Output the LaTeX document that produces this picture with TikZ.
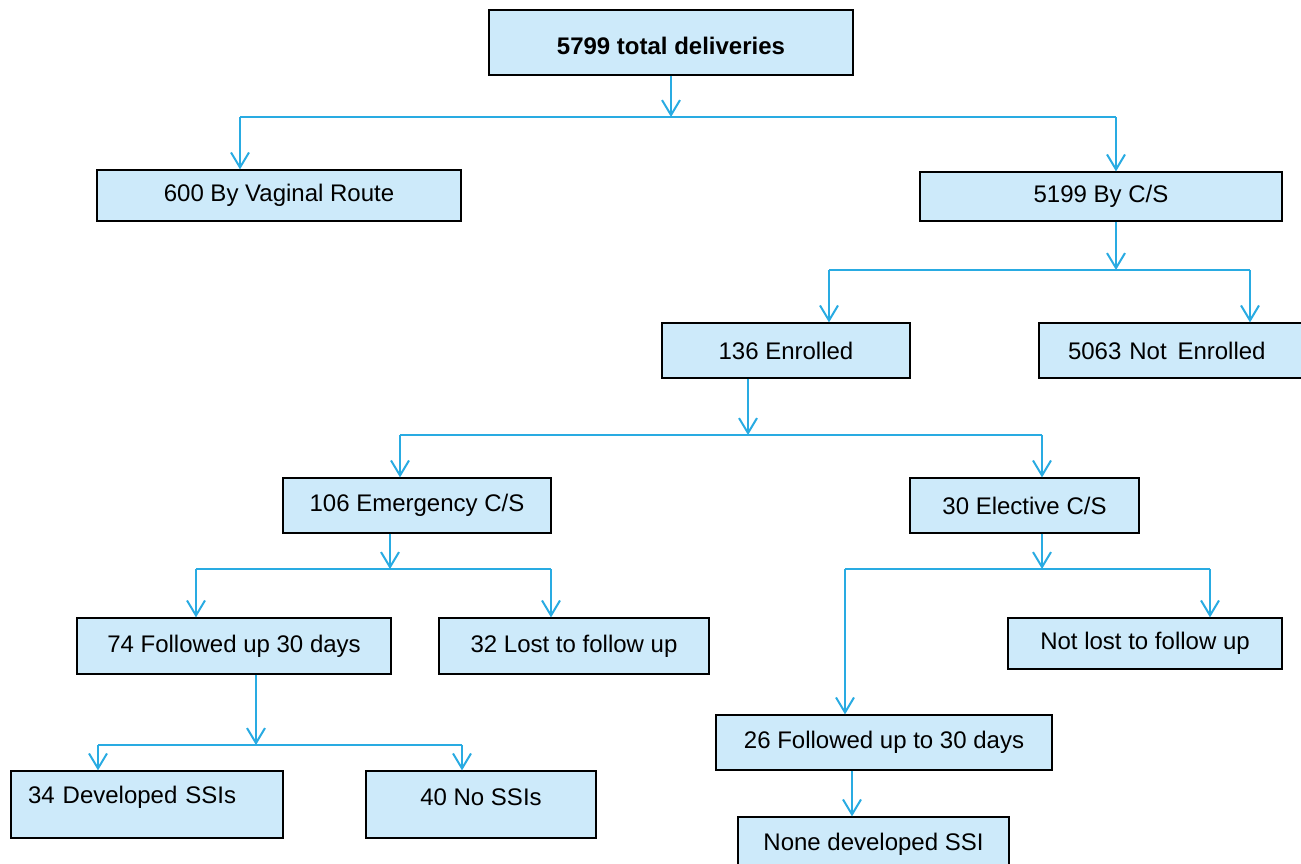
\documentclass[tikz,border=0pt]{standalone}
\usepackage{fontspec}
\setmainfont{Liberation Sans}
\usetikzlibrary{positioning,arrows.meta,calc}
\definecolor{linkblue}{RGB}{41,171,226}
\definecolor{boxfill}{RGB}{205,234,250}
\tikzset{
  flowbox/.style={draw=black, line width=1.2pt, fill=boxfill, inner sep=0pt,
    align=center, font=\fontsize{24}{28}\selectfont},
  flowleft/.style={flowbox, align=left},
  flowline/.style={draw=linkblue, line width=2pt},
  flowarrow/.style={flowline, -{Straight Barb[length=15pt, width=18pt]}},
}
\begin{document}
\begin{tikzpicture}[x=1pt, y=-1pt]
  \useasboundingbox (0,0) rectangle (1301,863);
  % boxes
  \node[flowbox, minimum width=364pt, minimum height=65pt, text height=25pt, font=\fontsize{24}{28}\selectfont\bfseries] (top) at (671,42.5) {5799 total deliveries};
  \node[flowbox, minimum width=364pt, minimum height=51pt] (vag) at (279,195.5) {600 By Vaginal Route};
  \node[flowbox, minimum width=362pt, minimum height=49pt] (cs) at (1101,196.5) {5199 By C/S};
  \node[flowbox, minimum width=248pt, minimum height=55pt] (enr) at (786,350.5) {136 Enrolled};
  \node[flowleft, minimum width=271pt, minimum height=55pt, inner xsep=29pt, text width=213pt] (nenr) at (1174.5,350.5) {5063 Not\hspace{0.45em}Enrolled};
  \node[flowbox, minimum width=268pt, minimum height=55pt] (emg) at (417,505.5) {106 Emergency C/S};
  \node[flowbox, minimum width=229pt, minimum height=55pt] (ele) at (1024.5,505.5) {30 Elective C/S};
  \node[flowbox, minimum width=314pt, minimum height=56pt] (f74) at (234,646) {74 Followed up 30 days};
  \node[flowbox, minimum width=270pt, minimum height=56pt] (l32) at (574,646) {32 Lost to follow up};
  \node[flowbox, minimum width=274pt, minimum height=51pt] (nlost) at (1145,643.5) {Not lost to follow up};
  \node[flowbox, minimum width=336pt, minimum height=55pt] (f26) at (884,742.5) {26 Followed up to 30 days};
  \node[flowbox, minimum width=271pt, minimum height=55pt] (none) at (873.5,844.5) {None developed SSI};
  \node[flowleft, minimum width=272pt, minimum height=67pt, inner xsep=17pt, text width=238pt, text depth=19pt] (dev) at (147,804.5) {34 Developed SSIs};
  \node[flowbox, minimum width=230pt, minimum height=67pt, text depth=14pt] (nossi) at (481,804.5) {40 No SSIs};
  % split points
  \coordinate (s1) at (671,117);  \coordinate (s1l) at (240,117);  \coordinate (s1r) at (1116,117);
  \coordinate (s2) at (1116,270); \coordinate (s2l) at (829,270);  \coordinate (s2r) at (1250,270);
  \coordinate (s3) at (748,435);  \coordinate (s3l) at (400,435);  \coordinate (s3r) at (1042,435);
  \coordinate (s4) at (390,569);  \coordinate (s4l) at (196,569);  \coordinate (s4r) at (551,569);
  \coordinate (s5) at (1042,569); \coordinate (s5l) at (845,569);  \coordinate (s5r) at (1210,569);
  \coordinate (s6) at (256,745);  \coordinate (s6l) at (98,745);   \coordinate (s6r) at (462,745);
  % connectors
  \draw[flowarrow] (top) -- (s1);
  \draw[flowline] (s1l) -- (s1r);
  \draw[flowarrow] (s1l) -- (s1l |- vag.north);
  \draw[flowarrow] (s1r) -- (s1r |- cs.north);
  \draw[flowarrow] (cs.south -| s2) -- (s2);
  \draw[flowline] (s2l) -- (s2r);
  \draw[flowarrow] (s2l) -- (s2l |- enr.north);
  \draw[flowarrow] (s2r) -- (s2r |- nenr.north);
  \draw[flowarrow] (enr.south -| s3) -- (s3);
  \draw[flowline] (s3l) -- (s3r);
  \draw[flowarrow] (s3l) -- (s3l |- emg.north);
  \draw[flowarrow] (s3r) -- (s3r |- ele.north);
  \draw[flowarrow] (emg.south -| s4) -- (s4);
  \draw[flowline] (s4l) -- (s4r);
  \draw[flowarrow] (s4l) -- (s4l |- f74.north);
  \draw[flowarrow] (s4r) -- (s4r |- l32.north);
  \draw[flowarrow] (ele.south -| s5) -- (s5);
  \draw[flowline] (s5l) -- (s5r);
  \draw[flowarrow] (s5l) -- (s5l |- f26.north);
  \draw[flowarrow] (s5r) -- (s5r |- nlost.north);
  \draw[flowarrow] (f74.south -| s6) -- (s6);
  \draw[flowline] (s6l) -- (s6r);
  \draw[flowarrow] (s6l) -- (s6l |- dev.north);
  \draw[flowarrow] (s6r) -- (s6r |- nossi.north);
  \draw[flowarrow] ([xshift=-32pt]f26.south) -- ([xshift=-32pt]f26.south |- none.north);
\end{tikzpicture}
\end{document}
